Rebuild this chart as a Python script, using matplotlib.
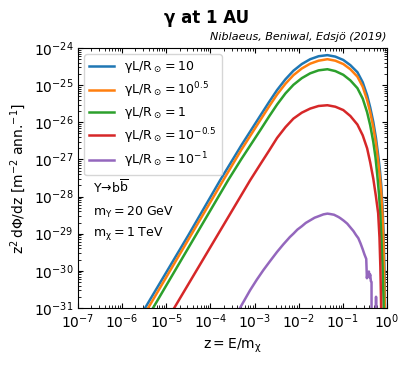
import matplotlib
matplotlib.use('Agg')
import matplotlib.pyplot as plt
import matplotlib.ticker as ticker
import numpy as np

plt.rcParams['mathtext.default'] = 'regular'

# log10(z) and log10(z^2 dPhi/dz), one pair per curve
logz_10 = [-7.0, -5.48, -4.5, -3.78, -3.3, -2.87, -2.67, -2.49, -2.30, -2.12,
           -1.93, -1.74, -1.55, -1.35, -1.17, -0.99, -0.83, -0.67, -0.55,
           -0.45, -0.38, -0.31, -0.25, -0.20, -0.16, -0.13, -0.10, -0.08,
           -0.06, -0.045, -0.035]
logf_10 = [-34.04, -31.0, -29.04, -27.56, -26.62, -25.82, -25.45, -25.13,
           -24.84, -24.61, -24.43, -24.30, -24.22, -24.19, -24.23, -24.32,
           -24.46, -24.65, -24.92, -25.27, -25.60, -25.99, -26.42, -26.88,
           -27.3, -27.69, -28.3, -28.9, -29.8, -30.8, -32.0]

logz_105 = [-7.0, -5.41, -3.71, -3.3, -2.87, -2.67, -2.49, -2.30, -2.12,
            -1.93, -1.74, -1.55, -1.35, -1.17, -0.99, -0.83, -0.67, -0.55,
            -0.45, -0.38, -0.31, -0.25, -0.20, -0.16, -0.13, -0.10, -0.08,
            -0.065, -0.05, -0.04]
logf_105 = [-34.2, -31.0, -27.56, -26.74, -25.94, -25.57, -25.25, -24.96,
            -24.73, -24.55, -24.42, -24.34, -24.30, -24.34, -24.43, -24.57,
            -24.77, -25.04, -25.40, -25.73, -26.13, -26.57, -27.05, -27.48,
            -27.9, -28.55, -29.2, -30.0, -31.0, -32.0]

logz_1 = [-7.0, -5.30, -3.60, -3.3, -2.87, -2.67, -2.49, -2.30, -2.12, -1.93,
          -1.74, -1.55, -1.35, -1.17, -0.99, -0.83, -0.67, -0.55, -0.45,
          -0.38, -0.31, -0.26, -0.22, -0.18, -0.15, -0.12, -0.10, -0.08,
          -0.065]
logf_1 = [-34.4, -31.0, -27.56, -26.99, -26.21, -25.84, -25.52, -25.22,
          -24.99, -24.81, -24.68, -24.60, -24.57, -24.62, -24.72, -24.87,
          -25.08, -25.36, -25.73, -26.08, -26.53, -26.95, -27.42, -27.95,
          -28.5, -29.3, -29.9, -30.7, -31.6]

logz_m05 = [-7.0, -4.82, -3.10, -2.87, -2.67, -2.49, -2.30, -2.12, -1.93,
            -1.74, -1.55, -1.35, -1.17, -0.99, -0.83, -0.67, -0.55, -0.45,
            -0.38, -0.31, -0.25, -0.20, -0.17, -0.15, -0.135, -0.125]
logf_m05 = [-35.4, -31.0, -27.56, -27.13, -26.76, -26.42, -26.13, -25.90,
            -25.74, -25.63, -25.56, -25.54, -25.58, -25.67, -25.83, -26.06,
            -26.35, -26.70, -27.08, -27.52, -28.0, -28.45, -29.1, -29.9,
            -30.8, -31.6]

logz_m1 = [-3.60, -3.33, -3.10, -2.95, -2.80, -2.65, -2.49, -2.35, -2.20,
           -2.12, -2.03, -1.93, -1.84, -1.74, -1.64, -1.55, -1.44, -1.35,
           -1.29, -1.20, -1.10, -1.06, -0.98, -0.90, -0.83, -0.76, -0.70,
           -0.65, -0.60, -0.55, -0.51, -0.47, -0.455, -0.44, -0.425, -0.41,
           -0.395, -0.38, -0.365, -0.35, -0.345, -0.25, -0.248, -0.243]
logf_m1 = [-31.55, -31.0, -30.52, -30.24, -29.98, -29.74, -29.49, -29.29,
           -29.09, -29.00, -28.89, -28.80, -28.71, -28.64, -28.57, -28.53,
           -28.48, -28.46, -28.47, -28.49, -28.55, -28.58, -28.65, -28.73,
           -28.83, -28.93, -29.04, -29.12, -29.26, -29.42, -29.56, -29.68,
           -30.20, -30.05, -30.12, -30.02, -30.18, -30.10, -30.28, -30.30,
           -35.0, -35.0, -30.70, -35.0]

labels = [r'$\gamma L/R_\odot = 10$',
          r'$\gamma L/R_\odot = 10^{0.5}$',
          r'$\gamma L/R_\odot = 1$',
          r'$\gamma L/R_\odot = 10^{-0.5}$',
          r'$\gamma L/R_\odot = 10^{-1}$']

curves = [(logz_10, logf_10), (logz_105, logf_105), (logz_1, logf_1),
          (logz_m05, logf_m05), (logz_m1, logf_m1)]

fig, ax = plt.subplots(1, 1, figsize=(4.13, 3.67), dpi=100)
fig.subplots_adjust(left=0.189, right=0.937, top=0.869, bottom=0.161)

for (lz, lf), lab in zip(curves, labels):
    ax.plot(10**np.array(lz), 10**np.array(lf), lw=1.8, label=lab)

ax.set_xscale('log')
ax.set_yscale('log')
ax.set_xlim(1e-7, 1)
ax.set_ylim(1e-31, 1e-24)

for axis in (ax.xaxis, ax.yaxis):
    axis.set_major_locator(ticker.LogLocator(base=10, numticks=100))
    axis.set_minor_locator(ticker.LogLocator(base=10, subs=np.arange(2, 10),
                                             numticks=100))
    axis.set_minor_formatter(ticker.NullFormatter())
ax.tick_params(which='both', direction='in', top=True, right=True,
               labelsize=10)

ax.set_xlabel(r'$z = E/m_\chi$', fontsize=10)
ax.set_ylabel(r'$z^2\, d\Phi/dz$ [$m^{-2}$ ann.$^{-1}$]', fontsize=10)

ax.legend(loc='upper left', fontsize=9, labelspacing=0.4)

# decay channel and masses
ax.text(0.049, 0.465, r'Y→b$\overline{b}$', transform=ax.transAxes,
        va='center', fontsize=9)
ax.text(0.049, 0.369, r'$m_Y = 20$ GeV', transform=ax.transAxes,
        va='center', fontsize=9)
ax.text(0.049, 0.288, r'$m_\chi = 1$ TeV', transform=ax.transAxes,
        va='center', fontsize=9)

ax.set_title('Niblaeus, Beniwal, Edsjö (2019)', loc='right',
             style='italic', fontsize=8)
fig.suptitle('γ at 1 AU', fontweight='bold', fontsize=12, y=0.975)

plt.savefig('out.png')
